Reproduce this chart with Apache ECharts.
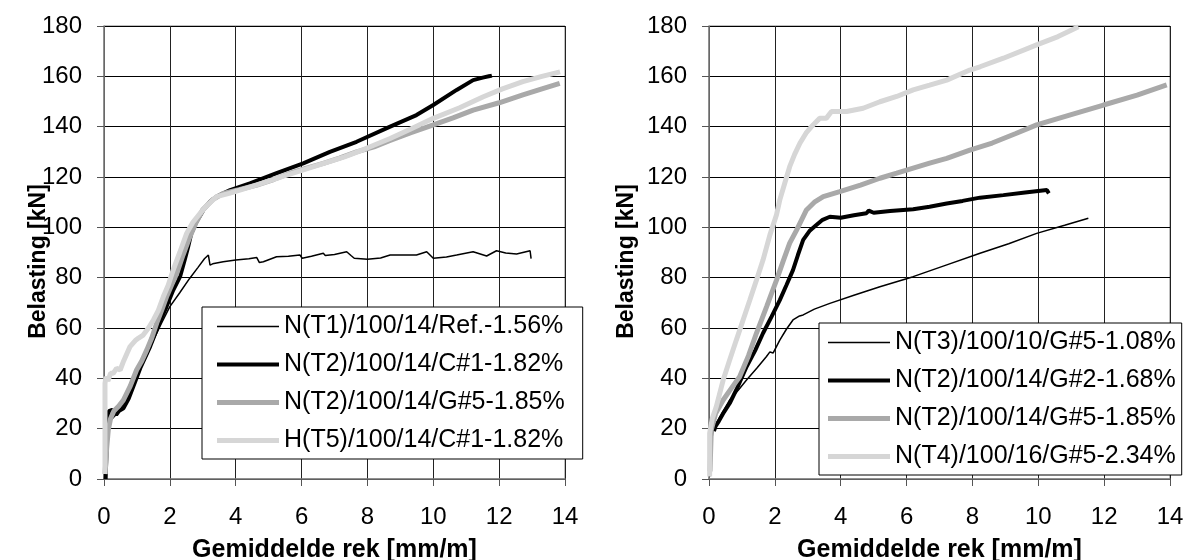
<!DOCTYPE html>
<html>
<head>
<meta charset="utf-8">
<script src="https://cdn.jsdelivr.net/npm/echarts@6/dist/echarts.min.js"></script>
<style>
html,body{margin:0;padding:0;background:#fff;}
#chart{width:1188px;height:560px;}
</style>
</head>
<body>
<div id="chart"></div>
<script>
// ---- Data ----
const xTicks = [0, 2, 4, 6, 8, 10, 12, 14];
const yTicks = [0, 20, 40, 60, 80, 100, 120, 140, 160, 180];
const xName = 'Gemiddelde rek [mm/m]';
const yName = 'Belasting [kN]';

// Left chart series names
const leftNames = ['N(T1)/100/14/Ref.-1.56%', 'N(T2)/100/14/C#1-1.82%', 'N(T2)/100/14/G#5-1.85%', 'H(T5)/100/14/C#1-1.82%'];
// Right chart series names
const rightNames = ['N(T3)/100/10/G#5-1.08%', 'N(T2)/100/14/G#2-1.68%', 'N(T2)/100/14/G#5-1.85%', 'N(T4)/100/16/G#5-2.34%'];

// Left chart: N(T1)/100/14/Ref.-1.56%
const L1x = [0.05, 0.1, 0.15, 0.25, 0.4, 0.55, 0.7, 0.9, 1.1, 1.3, 1.5, 1.75, 2.0, 2.3, 2.6, 2.85, 3.05, 3.17, 3.22, 3.3, 3.62, 4.0, 4.4, 4.64, 4.72, 4.84, 5.24, 5.6, 5.95, 6.02, 6.3, 6.66, 6.72, 7.0, 7.37, 7.5, 7.6, 8.0, 8.4, 8.69, 9.1, 9.49, 9.8, 10.0, 10.4, 10.71, 11.21, 11.62, 11.92, 12.2, 12.53, 12.94, 12.98, 12.97];
const L1y = [1, 18, 22, 24, 26, 29, 32.7, 38, 44.6, 49, 55.2, 62, 68.5, 74, 79.7, 84, 87.5, 89, 85, 85.5, 86.3, 87, 87.5, 88, 86, 86.3, 88.3, 88.5, 89, 87.7, 88.5, 89.7, 88.8, 89.2, 90.3, 88.8, 87.7, 87.3, 87.8, 89, 89, 89, 90.3, 87.7, 88.2, 89, 90.3, 88.6, 90.7, 89.8, 89.4, 90.7, 91.2, 87.6];
// Left chart: N(T2)/100/14/C#1-1.82%
const L2x = [0.05, 0.1, 0.15, 0.25, 0.37, 0.45, 0.59, 0.75, 0.89, 1.1, 1.4, 1.65, 1.9, 2.1, 2.31, 2.45, 2.55, 2.65, 2.8, 3.02, 3.2, 3.42, 3.83, 4.43, 5.24, 6.05, 6.86, 7.67, 8.69, 9.49, 10.0, 10.71, 11.21, 11.5, 11.72, 11.78];
const L2y = [0, 20, 27, 27.5, 25.5, 27, 28.1, 32, 36.7, 44, 52.6, 61, 68.5, 75, 80.4, 87, 92, 97.5, 102, 106.9, 110, 112.2, 114.8, 117.5, 121.5, 125.4, 130, 134, 140, 144.6, 148.6, 154.6, 158.5, 159.5, 160.1, 160.3];
// Left chart: N(T2)/100/14/G#5-1.85%
const L3x = [0.03, 0.08, 0.13, 0.2, 0.3, 0.45, 0.59, 0.8, 0.99, 1.15, 1.3, 1.45, 1.6, 1.75, 1.9, 2.05, 2.21, 2.4, 2.6, 2.8, 3.0, 3.3, 3.62, 4.1, 4.64, 5.15, 5.65, 6.15, 6.66, 7.15, 7.67, 8.2, 8.69, 9.3, 10.0, 10.6, 11.21, 12.0, 12.72, 13.3, 13.84];
const L3y = [2, 12, 19.5, 24, 27, 29, 31.4, 37, 43.3, 47, 51.3, 56, 61.9, 67, 72.4, 77, 81.7, 89, 96, 102, 107, 111, 113.5, 115, 116.8, 119, 121.5, 123.5, 125.4, 127.5, 130, 132, 134.5, 137.5, 140.7, 143.5, 146.6, 149.5, 152.6, 155, 157.2];
// Left chart: H(T5)/100/14/C#1-1.82%
const L4x = [0.03, 0.03, 0.06, 0.12, 0.2, 0.28, 0.38, 0.49, 0.6, 0.7, 0.79, 0.95, 1.05, 1.19, 1.35, 1.5, 1.65, 1.8, 1.95, 2.1, 2.3, 2.51, 2.7, 2.92, 3.15, 3.42, 3.8, 4.3, 4.9, 5.5, 6.1, 6.7, 7.3, 7.9, 8.69, 9.3, 10.0, 10.8, 11.52, 12.1, 12.72, 13.3, 13.85];
const L4y = [2, 38, 40.6, 39, 42, 42, 44, 43.3, 47, 50, 52.6, 55, 56, 57.2, 60, 63.2, 67, 72.4, 77, 83, 90, 97.6, 102, 105.6, 109, 112.2, 113.5, 115.5, 118, 120.5, 123, 125.5, 128, 131, 135.3, 139, 143.3, 147.5, 151.9, 155, 157.9, 160, 161.8];

// Right chart: N(T3)/100/10/G#5-1.08%
const R1x = [0.02, 0.06, 0.12, 0.3, 0.63, 0.9, 1.14, 1.45, 1.74, 1.85, 1.95, 2.15, 2.35, 2.55, 2.75, 2.86, 3.2, 3.67, 4.4, 5.19, 6.2, 7.2, 8.23, 9.1, 9.95, 10.8, 11.52];
const R1y = [1, 12, 19.5, 24, 31.4, 35.5, 39.3, 44, 48.6, 50.5, 50.1, 55.2, 59.5, 63.2, 64.8, 65.2, 67.5, 69.8, 73, 76.4, 80.4, 85, 89.7, 93.5, 97.6, 100.8, 103.6];
// Right chart: N(T2)/100/14/G#2-1.68%
const R2x = [0.15, 0.2, 0.3, 0.45, 0.63, 0.85, 1.14, 1.4, 1.64, 1.9, 2.15, 2.35, 2.55, 2.7, 2.86, 3.05, 3.26, 3.45, 3.67, 4.0, 4.4, 4.78, 4.85, 5.0, 5.5, 6.2, 6.7, 7.22, 7.7, 8.23, 8.94, 9.6, 10.26, 10.32];
const R2y = [19, 21, 23, 26.5, 30.1, 36, 44.6, 51, 57.9, 64.5, 71.1, 77, 83, 89, 95, 98.5, 100.9, 103, 104.2, 103.8, 104.8, 105.6, 106.6, 105.8, 106.5, 107.2, 108.2, 109.5, 110.5, 111.8, 112.8, 113.8, 114.8, 113.5];
// Right chart: N(T2)/100/14/G#5-1.85%
const R3x = [0.03, 0.07, 0.2, 0.43, 0.65, 0.93, 1.2, 1.44, 1.75, 2.05, 2.25, 2.45, 2.66, 2.96, 3.2, 3.47, 3.97, 4.6, 5.19, 5.7, 6.2, 6.7, 7.22, 7.92, 8.6, 9.3, 9.95, 11.0, 11.98, 13.0, 13.9];
const R3y = [3, 19.5, 26, 31.4, 35.5, 40.6, 49, 57.9, 68.5, 79, 86.5, 93.7, 98.9, 106.9, 110, 112.2, 114.2, 116.8, 119.5, 121.5, 123.5, 125.5, 127.4, 130.7, 133.5, 137.2, 140.7, 144.8, 148.6, 152.5, 156.6];
// Right chart: N(T4)/100/16/G#5-2.34%
const R4x = [0.02, 0.02, 0.1, 0.22, 0.43, 0.62, 0.83, 1.03, 1.24, 1.44, 1.64, 1.85, 2.05, 2.15, 2.3, 2.45, 2.6, 2.76, 2.95, 3.16, 3.36, 3.56, 3.72, 4.18, 4.68, 5.19, 5.7, 6.2, 6.7, 7.22, 7.92, 8.23, 8.94, 9.95, 10.6, 11.22];
const R4y = [1, 18.2, 24, 28.7, 39.3, 47, 55.2, 63, 71.1, 79, 87, 97, 105, 110.9, 117.5, 124.1, 129, 133.4, 137.5, 140.7, 143.3, 143.3, 146, 146, 147.3, 149.9, 152, 154.6, 156.5, 158.5, 162.5, 163.8, 167.2, 172.5, 175.8, 179.7];

// ---- Build chart ----
const FONT = '"Liberation Sans", Arial, Helvetica, sans-serif';
const zip = (xs, ys) => xs.map((x, i) => [x, ys[i]]);
const styles = [
  { color: '#000000', width: 1.5, icon: 'path://M0,0H124V3H0Z' },
  { color: '#000000', width: 4, icon: 'path://M0,0H62V4H0Z' },
  { color: '#a9a9a9', width: 5, icon: 'path://M0,0H62V5H0Z' },
  { color: '#d6d6d6', width: 5, icon: 'path://M0,0H62V5H0Z' }
];

const leftData = [zip(L1x, L1y), zip(L2x, L2y), zip(L3x, L3y), zip(L4x, L4y)];
const rightData = [zip(R1x, R1y), zip(R2x, R2y), zip(R3x, R3y), zip(R4x, R4y)];

function makeX(idx) {
  return {
    type: 'value', gridIndex: idx, min: xTicks[0], max: xTicks[xTicks.length - 1], interval: 2,
    name: xName, nameLocation: 'middle', nameGap: 59, nameMoveOverlap: false,
    nameTextStyle: { fontFamily: FONT, fontSize: 25, fontWeight: 'bold', color: '#000' },
    axisLine: { show: true, onZero: false, lineStyle: { color: '#808080', width: 1.5 } },
    axisTick: { show: true, inside: false, length: 7, lineStyle: { color: '#555' } },
    axisLabel: { fontFamily: FONT, fontSize: 24, color: '#000', margin: 26 },
    splitLine: { show: true, lineStyle: { color: '#222', width: 1 } }
  };
}
function makeY(idx, gap) {
  return {
    type: 'value', gridIndex: idx, min: yTicks[0], max: yTicks[yTicks.length - 1], interval: 20,
    name: yName, nameLocation: 'middle', nameGap: gap, nameMoveOverlap: false,
    nameTextStyle: { fontFamily: FONT, fontSize: 23, fontWeight: 'bold', color: '#000', padding: [0, 18, 0, 0] },
    axisLine: { show: true, onZero: false, lineStyle: { color: '#808080', width: 1.5 } },
    axisTick: { show: true, inside: false, length: 7, lineStyle: { color: '#555' } },
    axisLabel: { fontFamily: FONT, fontSize: 24, color: '#000', margin: 22 },
    splitLine: { show: true, lineStyle: { color: '#000', width: 1 } }
  };
}
function makeSeries(names, datas, idx) {
  return names.map((n, i) => ({
    type: 'line', name: n, xAxisIndex: idx, yAxisIndex: idx,
    data: datas[i], symbol: 'none', showSymbol: false, smooth: false,
    lineStyle: { color: styles[i].color, width: styles[i].width },
    itemStyle: { color: styles[i].color },
    clip: true, silent: true, animation: false
  }));
}
function makeLegend(names, left, top, padding) {
  return {
    show: true, orient: 'vertical', left: left, top: top,
    data: names.map((n, i) => ({ name: n, icon: styles[i].icon, itemStyle: { color: styles[i].color, borderWidth: 0 } })),
    padding: padding, itemGap: 13, itemWidth: 62, itemHeight: 14, symbolKeepAspect: true,
    borderColor: '#000', borderWidth: 1, backgroundColor: '#fff',
    textStyle: { fontFamily: FONT, fontSize: 25, color: '#000' },
    selectedMode: false
  };
}

const chart = echarts.init(document.getElementById('chart'), null, { renderer: 'canvas' });
chart.setOption({
  backgroundColor: '#fff',
  animation: false,
  grid: [
    { left: 104, top: 26, width: 461, height: 453, containLabel: false, outerBoundsMode: 'none', show: true, borderColor: '#808080', borderWidth: 1 },
    { left: 709, top: 26, width: 461, height: 453, containLabel: false, outerBoundsMode: 'none', show: true, borderColor: '#808080', borderWidth: 1 }
  ],
  xAxis: [makeX(0), makeX(1)],
  yAxis: [makeY(0, 54), makeY(1, 71)],
  legend: [
    makeLegend(leftNames, 202, 307, [7, 18, 6, 15]),
    makeLegend(rightNames, 819, 323, [7, 6, 6, 9])
  ],
  series: makeSeries(leftNames, leftData, 0).concat(makeSeries(rightNames, rightData, 1))
});
</script>
</body>
</html>
